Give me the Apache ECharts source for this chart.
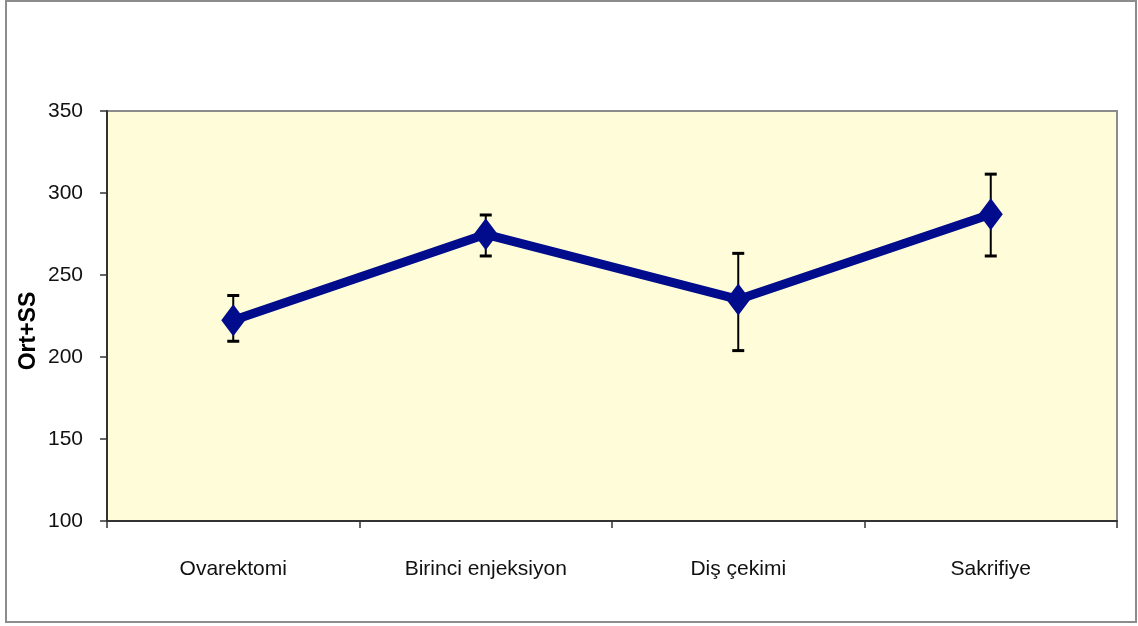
<!DOCTYPE html>
<html>
<head>
<meta charset="utf-8">
<script src="https://cdn.jsdelivr.net/npm/echarts@6/dist/echarts.min.js"></script>
<style>
  html, body { margin: 0; padding: 0; background: #fff; }
  #chart { width: 1138px; height: 626px; }
</style>
</head>
<body>
<div id="chart"></div>
<script>
// kategoriler ve ortalama / hata çubuğu değerleri
var categories = ['Ovarektomi', 'Birinci enjeksiyon', 'Diş çekimi', 'Sakrifiye'];
var means = [222.4, 274.8, 235.1, 287];
var upper = [237.5, 286.6, 263.2, 311.5];
var lower = [209.6, 261.6, 203.9, 261.6];

var font = "'Liberation Sans', Arial, sans-serif";

var chart = echarts.init(document.getElementById('chart'));

var errData = categories.map(function (c, i) {
  return [i, lower[i], upper[i]];
});

var option = {
  animation: false,
  textStyle: { fontFamily: font },
  graphic: [{
    type: 'rect',
    shape: { x: 6, y: 1, width: 1130, height: 621 },
    style: { fill: 'none', stroke: '#8c8c8c', lineWidth: 2 },
    silent: true
  }, {
    type: 'text',
    x: 29, y: 331,
    rotation: Math.PI / 2,
    style: {
      text: 'Ort+SS',
      fill: '#000',
      font: "bold 23px 'Liberation Sans', Arial, sans-serif",
      align: 'center',
      verticalAlign: 'middle'
    },
    silent: true
  }],
  grid: {
    left: 107, right: 21, top: 111, bottom: 105,
    show: true,
    backgroundColor: '#fffdd9',
    borderColor: '#8c8c8c',
    borderWidth: 2
  },
  xAxis: {
    type: 'category',
    data: categories,
    boundaryGap: true,
    axisLine: { lineStyle: { color: '#333', width: 2 } },
    axisTick: { show: true, length: 7, lineStyle: { color: '#333', width: 1.5 } },
    axisLabel: { color: '#111', fontSize: 21, margin: 38 }
  },
  yAxis: {
    type: 'value',
    min: 100, max: 350, interval: 50,
    splitLine: { show: false },
    axisLine: { show: true, lineStyle: { color: '#333', width: 2 } },
    axisTick: { show: true, length: 7, lineStyle: { color: '#333', width: 1.5 } },
    axisLabel: { color: '#111', fontSize: 21, margin: 24 }
  },
  series: [
    {
      type: 'line',
      data: means,
      z: 3,
      lineStyle: { color: '#000c8c', width: 9 },
      itemStyle: { color: '#000c8c' },
      symbol: 'diamond',
      symbolSize: [24, 32],
      showSymbol: true
    },
    {
      type: 'custom',
      z: 2,
      data: errData,
      renderItem: function (params, api) {
        var x = api.value(0);
        var lo = api.coord([x, api.value(1)]);
        var hi = api.coord([x, api.value(2)]);
        var cap = 6;
        return {
          type: 'group',
          children: [
            { type: 'line', shape: { x1: lo[0], y1: lo[1], x2: hi[0], y2: hi[1] }, style: { stroke: '#000', lineWidth: 2 } },
            { type: 'line', shape: { x1: hi[0] - cap, y1: hi[1], x2: hi[0] + cap, y2: hi[1] }, style: { stroke: '#000', lineWidth: 3 } },
            { type: 'line', shape: { x1: lo[0] - cap, y1: lo[1], x2: lo[0] + cap, y2: lo[1] }, style: { stroke: '#000', lineWidth: 3 } }
          ]
        };
      }
    }
  ]
};

chart.setOption(option);
</script>
</body>
</html>
